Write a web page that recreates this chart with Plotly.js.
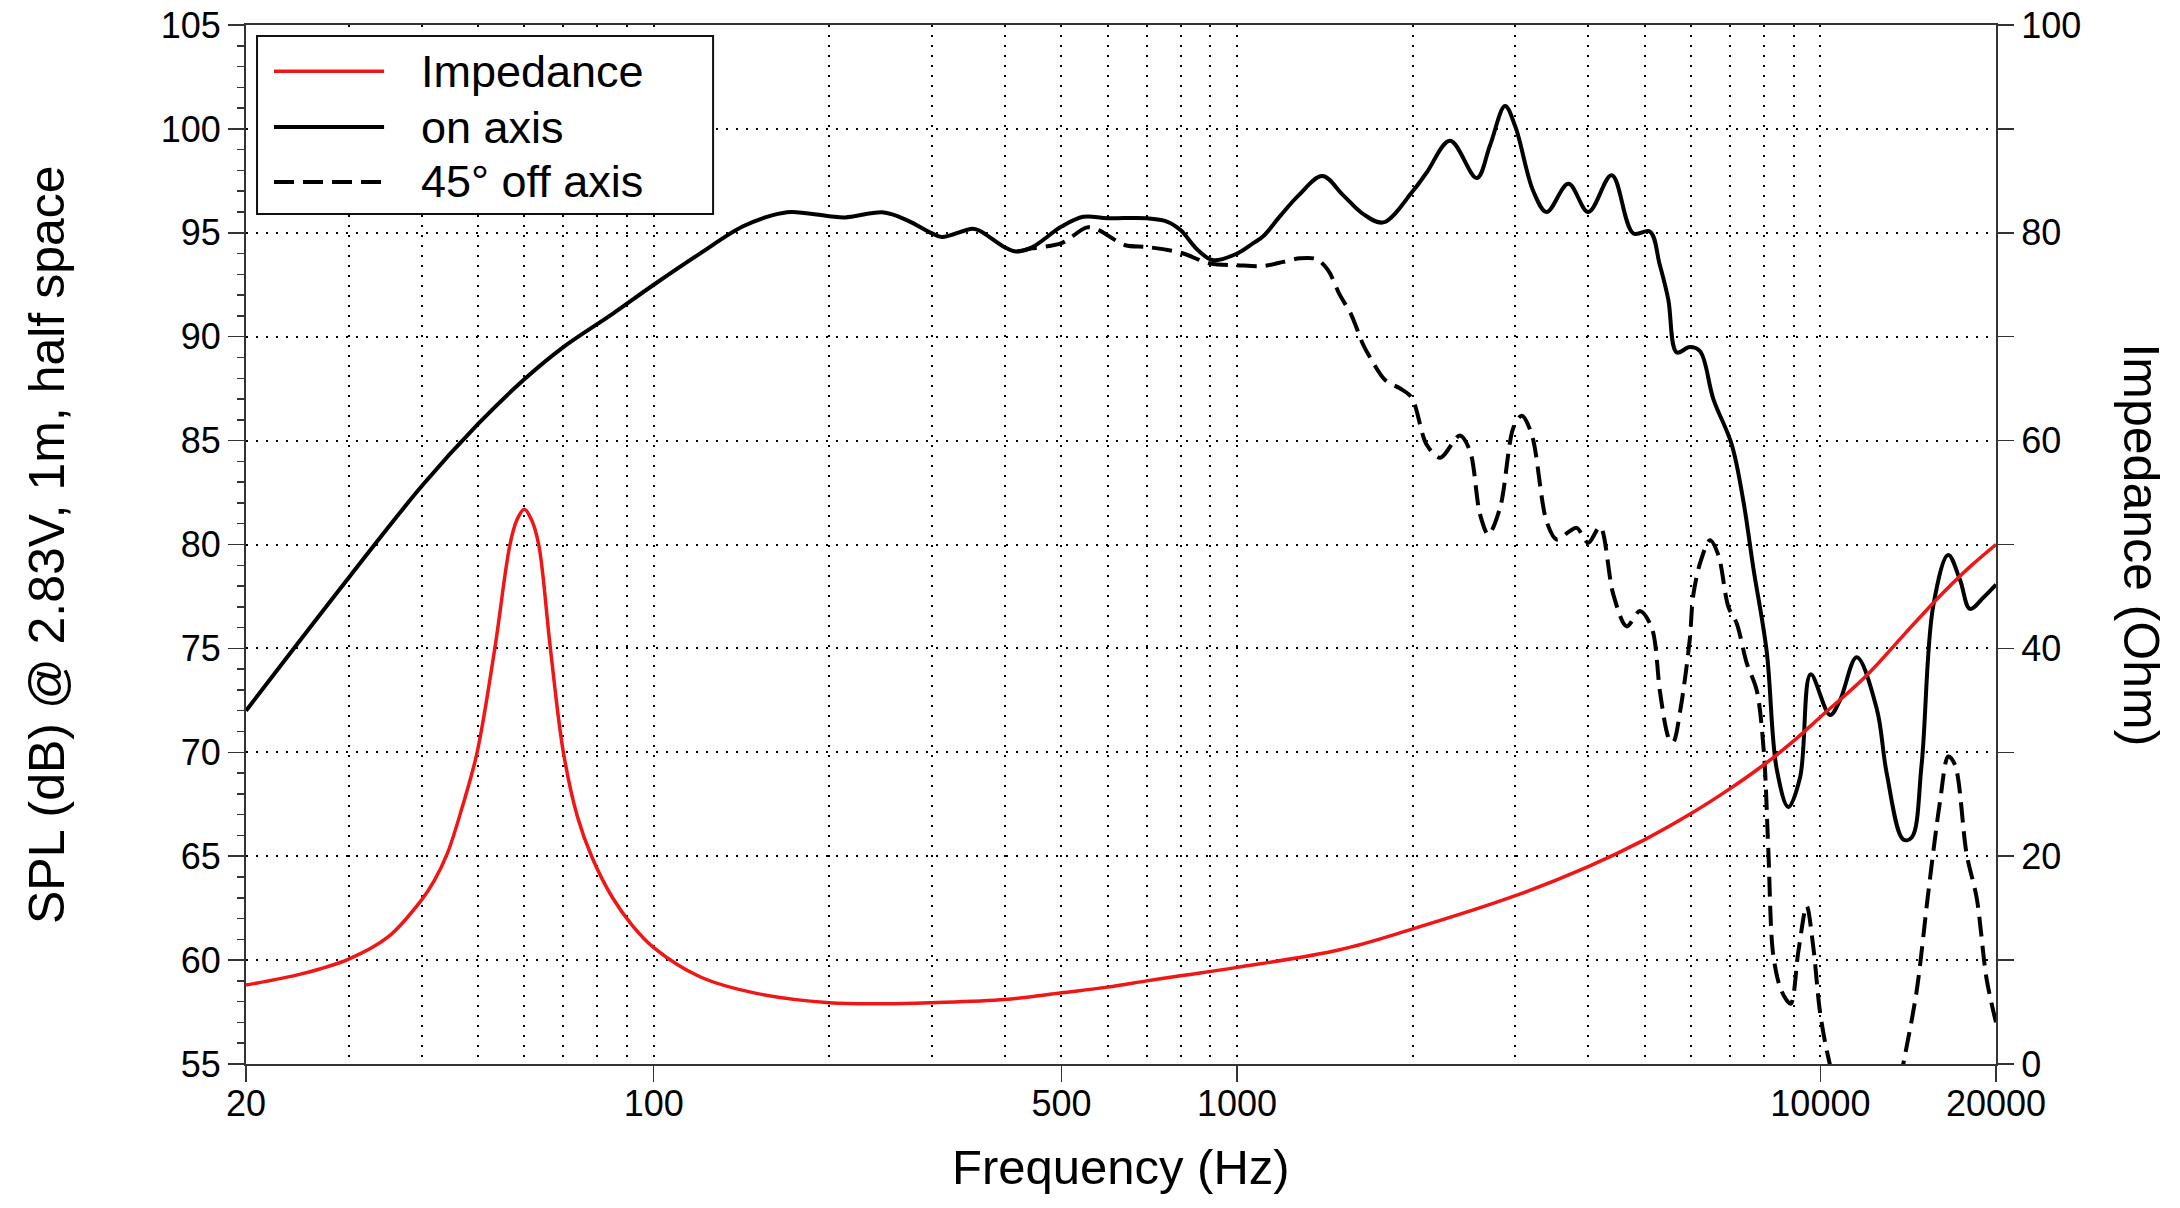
<!DOCTYPE html>
<html>
<head>
<meta charset="utf-8">
<script src="https://cdn.plot.ly/plotly-3.0.1.min.js"></script>
<style>
  html, body { margin: 0; padding: 0; background: #fff; }
  #chart { width: 2180px; height: 1208px; }
</style>
</head>
<body>
<div id="chart"></div>
<script>
// Series names (also used for the legend block)
const seriesNames = ['Impedance', 'on axis', '45° off axis'];

// Impedance magnitude (Ohm) vs frequency (Hz)
const freqImp = [20, 25, 30, 35, 40, 42, 44.3, 47, 49.8, 53.4, 56.7, 58.3, 60, 61.7, 63.5, 66.5, 70, 74, 78.5, 85, 92,
  100, 120, 150, 200, 250, 300, 400, 500, 600, 700, 800, 1000, 1500, 2000, 3000, 4000, 5000, 6000,
  7000, 8000, 9000, 10000, 12000, 14000, 16000, 18000, 20000];
const impOhm = [7.6, 8.7, 10.1, 12.2, 15.8, 17.6, 20.3, 24.8, 30, 40, 50, 52.4, 53.4, 52.4, 50, 40, 30, 23.8, 19.8, 16.0, 13.3,
  11.2, 8.4, 6.8, 5.9, 5.8, 5.9, 6.2, 6.85, 7.4, 8.0, 8.5, 9.3, 11.0, 13.0, 16.2, 19.0, 21.6, 24.1,
  26.5, 28.8, 31.1, 33.4, 37.4, 41.5, 45.0, 47.8, 50.0];

// On-axis SPL (dB) vs frequency (Hz)
const freqOn = [20, 30, 40, 50, 60, 70, 85, 100, 120, 142, 160, 172, 200, 213, 248, 272, 300,
  312, 352, 362, 400, 418, 445, 500, 545, 600, 700, 760, 800, 857, 910, 1000, 1066, 1110, 1185, 1275,
  1400, 1521, 1646, 1781, 2000, 2114, 2318, 2576, 2714, 2880, 3000, 3220, 3394, 3699, 4000, 4388, 4778,
  5104, 5300, 5485, 5672, 5970, 6219, 6554, 7045, 7377, 7674, 8089, 8415, 8810, 9230, 9623, 10386,
  10802, 11540, 12490, 12990, 13870, 14340, 14910, 15610, 16565, 17350, 18050, 19030, 20000];
const splOn = [72.0, 78.4, 82.8, 85.8, 87.95, 89.5, 91.1, 92.5, 94.0, 95.3, 95.85, 96.0, 95.8, 95.74, 95.98, 95.6, 94.97,
  94.8, 95.2, 95.1, 94.3, 94.1, 94.3, 95.3, 95.77, 95.7, 95.7, 95.53, 95.13, 94.16, 93.68, 94.0, 94.5, 94.85, 95.8, 96.8,
  97.73, 96.8, 95.9, 95.5, 97.0, 97.9, 99.43, 97.64, 99.2, 101.1, 100.1, 97.0, 96.0, 97.36, 96.0, 97.77, 94.97,
  95.06, 93.5, 91.8, 89.24, 89.5, 89.3, 87.0, 84.82, 82.1, 78.87, 74.86, 69.2, 67.37, 68.8, 73.75, 71.8,
  72.5, 74.57, 72.1, 69.0, 65.8, 65.9, 69.4, 77.04, 79.5, 78.3, 76.9, 77.45, 78.07];

// 45 degree off-axis SPL (dB) vs frequency (Hz); below ~420 Hz it coincides with the on-axis curve
const freqOff = [420, 445, 500, 553, 579, 643, 700, 800, 900, 1000, 1110, 1200, 1282, 1369, 1432, 1501, 1567,
  1646, 1691, 1796, 1901, 1992, 2114, 2229, 2410, 2508, 2609, 2696, 2824, 2977, 3076, 3200, 3394, 3531,
  3700, 3821, 4000, 4190, 4415, 4655, 4905, 5138, 5309, 5451, 5524, 5597, 5750, 5970, 6050, 6219, 6468,
  6683, 6954, 7188, 7475, 7775, 8000, 8142, 8305, 8581, 8890, 9165, 9472, 9726, 9985, 10320, 11000,
  12400, 13300, 13870, 14620, 15310, 16030, 16565, 17010, 17810, 18530, 19270, 20000];
const splOff = [94.1, 94.25, 94.5, 95.26, 95.13, 94.4, 94.32, 94.04, 93.52, 93.44, 93.4, 93.6, 93.77, 93.73, 93.2, 92.0, 91.1,
  89.6, 89.0, 87.9, 87.52, 87.07, 84.8, 84.18, 85.25, 84.5, 81.45, 80.48, 81.77, 85.63, 86.2, 85.3, 81.1, 80.24,
  80.6, 80.8, 80.08, 80.85, 77.6, 76.06, 76.8, 76.0, 72.9, 71.0, 70.55, 70.5, 72.0, 75.4, 77.5, 79.1, 80.2,
  79.5, 77.0, 76.2, 74.3, 73.0, 70.0, 65.3, 60.2, 58.5, 57.9, 60.4, 62.6, 60.6, 57.5, 55.3, 52.5,
  50.5, 52.5, 55.0, 58.5, 63.25, 67.6, 69.8, 69.4, 65.1, 63.0, 59.1, 57.0];

// Frequency axis labels and grid positions
const xTickVals = [20, 100, 500, 1000, 10000, 20000];
const xTickText = ['20', '100', '500', '1000', '10000', '20000'];
const xGridVals = [30, 40, 50, 60, 70, 80, 90, 100, 200, 300, 400, 500, 600, 700, 800, 900,
  1000, 2000, 3000, 4000, 5000, 6000, 7000, 8000, 9000, 10000];

const FONT = 'Liberation Sans, Helvetica, Arial, sans-serif';
const AXIS_COLOR = '#333333';
const GRID_DASH = '2px,8px';
const RED = 'rgb(240,22,22)';
const OFF_DASH = '20px,9px';

const traces = [
  { x: freqOn, y: splOn, name: seriesNames[1], type: 'scatter', mode: 'lines', yaxis: 'y',
    line: { color: '#000', width: 4, shape: 'spline', smoothing: 1 } },
  { x: freqOff, y: splOff, name: seriesNames[2], type: 'scatter', mode: 'lines', yaxis: 'y',
    line: { color: '#000', width: 4, dash: OFF_DASH, shape: 'spline', smoothing: 0.9 } },
  { x: freqImp, y: impOhm, name: seriesNames[0], type: 'scatter', mode: 'lines', yaxis: 'y2',
    line: { color: RED, width: 3.5, shape: 'spline', smoothing: 1 } }
];

// Legend block geometry in paper coordinates
const lg = { x0: 0.0063, x1: 0.2669, y0: 0.8181, y1: 0.9894, lineX0: 0.0160, lineX1: 0.0789, textX: 0.099,
  rows: [0.9556, 0.9018, 0.8490] };
const legendStyles = [
  { color: RED, width: 3.5, dash: 'solid' },
  { color: '#000', width: 4, dash: 'solid' },
  { color: '#000', width: 4, dash: OFF_DASH }
];

const shapes = [
  { type: 'rect', xref: 'paper', yref: 'paper', x0: lg.x0, x1: lg.x1, y0: lg.y0, y1: lg.y1,
    fillcolor: '#fff', line: { color: '#111', width: 2 }, layer: 'above' }
];
const annotations = [];
seriesNames.forEach((name, i) => {
  shapes.push({ type: 'line', xref: 'paper', yref: 'paper', x0: lg.lineX0, x1: lg.lineX1,
    y0: lg.rows[i], y1: lg.rows[i], line: legendStyles[i], layer: 'above' });
  annotations.push({ xref: 'paper', yref: 'paper', x: lg.textX, y: lg.rows[i], xanchor: 'left', yanchor: 'middle',
    text: name, showarrow: false, font: { family: FONT, size: 45, color: '#000' } });
});

// Axis titles
annotations.push({ xref: 'paper', yref: 'paper', x: 0.5, y: -0.099, xanchor: 'center', yanchor: 'middle',
  text: 'Frequency (Hz)', showarrow: false, font: { family: FONT, size: 49, color: '#000' } });
annotations.push({ xref: 'paper', yref: 'paper', x: -0.1140, y: 0.5, xanchor: 'center', yanchor: 'middle',
  text: 'SPL (dB) @ 2.83V, 1m, half space', textangle: -90, showarrow: false,
  font: { family: FONT, size: 50, color: '#000' } });
annotations.push({ xref: 'paper', yref: 'paper', x: 1.0829, y: 0.5, xanchor: 'center', yanchor: 'middle',
  text: 'Impedance (Ohm)', textangle: 90, showarrow: false,
  font: { family: FONT, size: 50, color: '#000' } });

const layout = {
  width: 2180, height: 1208,
  margin: { l: 246, r: 184, t: 25, b: 144, pad: 0 },
  paper_bgcolor: '#fff', plot_bgcolor: '#fff',
  font: { family: FONT, size: 36, color: '#000' },
  showlegend: false,
  xaxis: {
    type: 'log', range: [Math.log10(20), Math.log10(20000)],
    tickmode: 'array', tickvals: xTickVals, ticktext: xTickText,
    ticks: 'outside', ticklen: 16, tickwidth: 1.5, tickcolor: AXIS_COLOR,
    ticklabelstandoff: -9,
    tickfont: { family: FONT, size: 36, color: '#000' },
    showline: true, linecolor: AXIS_COLOR, linewidth: 2, mirror: true,
    showgrid: true, gridcolor: '#000', gridwidth: 2, griddash: GRID_DASH,
    minor: { tickmode: 'array', tickvals: xGridVals, ticks: '', showgrid: true,
      gridcolor: '#000', gridwidth: 2, griddash: GRID_DASH },
    zeroline: false, fixedrange: true
  },
  yaxis: {
    range: [55, 105], tickmode: 'linear', tick0: 55, dtick: 5,
    ticks: 'outside', ticklen: 16, tickwidth: 1.5, tickcolor: AXIS_COLOR,
    tickfont: { family: FONT, size: 36, color: '#000' },
    minor: { dtick: 1, ticks: 'outside', ticklen: 7, tickwidth: 1.5, tickcolor: AXIS_COLOR, showgrid: false },
    showline: true, linecolor: AXIS_COLOR, linewidth: 2, mirror: false,
    showgrid: true, gridcolor: '#000', gridwidth: 2, griddash: GRID_DASH,
    zeroline: false, fixedrange: true
  },
  yaxis2: {
    overlaying: 'y', side: 'right', range: [0, 100], tickmode: 'linear', tick0: 0, dtick: 20,
    ticks: 'outside', ticklen: 16, tickwidth: 1.5, tickcolor: AXIS_COLOR,
    tickfont: { family: FONT, size: 36, color: '#000' },
    minor: { dtick: 10, ticks: 'outside', ticklen: 16, tickwidth: 1.5, tickcolor: AXIS_COLOR, showgrid: false },
    showline: true, linecolor: AXIS_COLOR, linewidth: 2,
    showgrid: false, zeroline: false, fixedrange: true
  },
  shapes: shapes,
  annotations: annotations
};

Plotly.newPlot('chart', traces, layout, { displayModeBar: false, staticPlot: true });
</script>
</body>
</html>
